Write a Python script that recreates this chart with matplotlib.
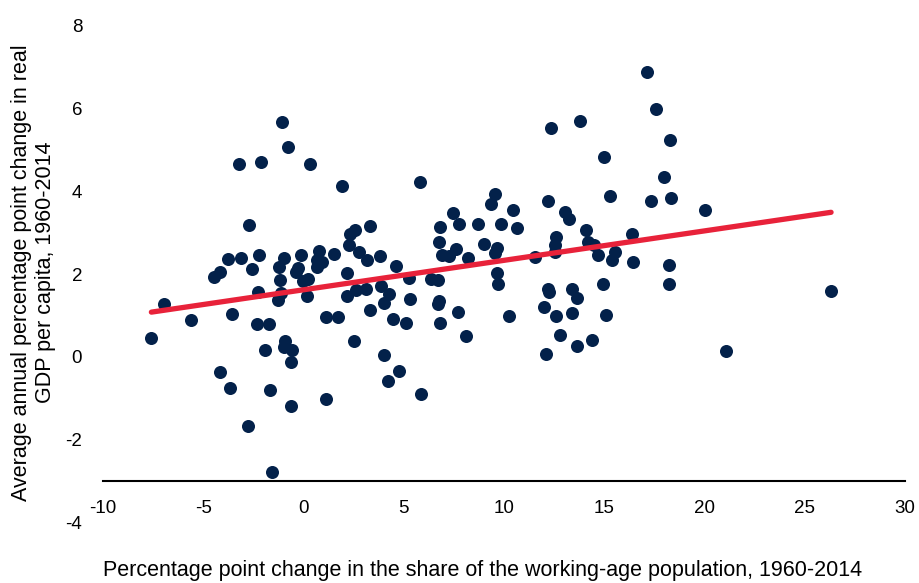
import numpy as np
import matplotlib
matplotlib.use("Agg")
import matplotlib.pyplot as plt

plt.rcParams['font.family'] = ['Liberation Sans', 'DejaVu Sans']

# change in working-age share (pp) vs. average annual real GDP per capita growth
working_age_change = [
    17.1, 17.55, 18.28, 13.8, 12.34, 15.0, 17.95, 15.28, 17.34, 18.3,
    20.03, 12.18, 13.04, 13.25, 14.08, 16.35, 12.57, 12.52, 12.52, 14.2,
    14.5, 14.7, 15.55, 15.4, 16.43, 18.2, 18.2, 26.3, 21.07, 11.53,
    12.18, 12.23, 13.4, 13.64, 14.92, 12.0, 12.57, 13.4, 15.1, 12.8,
    13.64, 14.4, 12.1,
    5.82, 9.55, 9.34, 10.43, 7.46, 7.75, 6.78, 8.69, 9.86, 10.62,
    6.73, 8.97, 9.62, 9.52, 7.6, 6.91, 7.25, 8.22, 9.62, 9.7,
    6.36, 6.7, 5.27, 6.75, 6.68, 5.32, 7.69, 6.78, 10.25, 8.09,
    5.87, 4.59, 3.81, 3.31, 2.58, 2.32, 1.93, 2.27, 2.74, 3.16,
    1.51, 2.16, 3.86, 4.28, 4.02, 3.13, 2.63, 2.16, 3.31, 4.46,
    5.09, 1.1, 1.7, 2.5, 4.02, 4.75, 4.23, 1.12,
    -1.1, -0.76, -3.21, -2.14, 0.31, -2.74, -3.76, -3.13, -2.22, -2.58,
    -4.17, -4.49, -6.94, -7.59, -5.61, -3.55, -2.32, -1.75, -2.27, -1.9,
    -1.23, -0.97, -1.17, -1.12, -1.28, -0.13, -0.29, -0.39, -0.03, 0.23,
    0.16, 0.76, 0.65, 0.94, 0.65, -0.94, -0.97, -0.6, -0.65, -4.17,
    -3.68, -1.7, -0.63, -2.76, -1.59,
]
gdp_growth = [
    6.87, 5.97, 5.22, 5.69, 5.52, 4.81, 4.35, 3.89, 3.77, 3.83,
    3.54, 3.75, 3.49, 3.33, 3.06, 2.97, 2.89, 2.69, 2.53, 2.76,
    2.69, 2.47, 2.54, 2.33, 2.30, 2.22, 1.75, 1.60, 0.15, 2.42,
    1.65, 1.57, 1.65, 1.42, 1.77, 1.20, 0.99, 1.05, 1.02, 0.54,
    0.26, 0.42, 0.07,
    4.21, 3.93, 3.69, 3.54, 3.46, 3.21, 3.14, 3.21, 3.20, 3.12,
    2.78, 2.72, 2.62, 2.51, 2.60, 2.46, 2.44, 2.38, 2.02, 1.75,
    1.88, 1.86, 1.91, 1.36, 1.27, 1.39, 1.08, 0.81, 0.99, 0.50,
    -0.90, 2.20, 2.44, 3.15, 3.06, 2.97, 4.12, 2.69, 2.53, 2.33,
    2.49, 2.02, 1.72, 1.51, 1.30, 1.64, 1.61, 1.48, 1.14, 0.92,
    0.81, 0.97, 0.97, 0.38, 0.04, -0.33, -0.58, -1.01,
    5.66, 5.06, 4.66, 4.69, 4.66, 3.17, 2.36, 2.38, 2.46, 2.11,
    2.05, 1.92, 1.27, 0.46, 0.90, 1.03, 0.80, 0.79, 1.57, 0.18,
    2.17, 2.39, 1.86, 1.55, 1.38, 2.45, 2.15, 2.04, 1.82, 1.88,
    1.47, 2.55, 2.33, 2.28, 2.17, 0.38, 0.25, 0.18, -0.13, -0.35,
    -0.75, -0.79, -1.19, -1.67, -2.78,
]

# linear trend
trend_slope = 0.071
trend_intercept = 1.62

x_ticks = [-10, -5, 0, 5, 10, 15, 20, 25, 30]
y_ticks = [-4, -2, 0, 2, 4, 6, 8]

navy = '#03214a'
red = '#e8223a'

fig = plt.figure(figsize=(9.2, 5.83), dpi=100)
ax = fig.add_axes([0.112, 0.103, 0.872, 0.854])

x = np.array(working_age_change)
y = np.array(gdp_growth)
ax.scatter(x, y, s=88, color=navy, linewidths=0, zorder=3)

xt = np.array([x.min(), x.max()])
ax.plot(xt, trend_intercept + trend_slope * xt, color=red, lw=3.8,
        solid_capstyle='round', zorder=4)

ax.set_xlim(-10, 30)
ax.set_ylim(-4, 8)
ax.set_xticks(x_ticks)
ax.set_yticks(y_ticks)
ax.set_xticklabels([str(t) for t in x_ticks])
ax.set_yticklabels([str(t) for t in y_ticks])

for side in ['top', 'right', 'left']:
    ax.spines[side].set_visible(False)
ax.spines['bottom'].set_position(('data', -3))
ax.spines['bottom'].set_linewidth(1.5)
ax.tick_params(axis='both', length=0, labelsize=13.5)
ax.tick_params(axis='x', pad=13)
ax.tick_params(axis='y', pad=15)

fig.text(0.036, 0.533,
         'Average annual percentage point change in real\nGDP per capita, 1960-2014',
         rotation=90, ha='center', va='center', multialignment='center',
         fontsize=15.5)
fig.text(0.524, 0.003,
         'Percentage point change in the share of the working-age population, 1960-2014',
         ha='center', va='bottom', fontsize=15.5)

fig.savefig('out.png', dpi=100)
